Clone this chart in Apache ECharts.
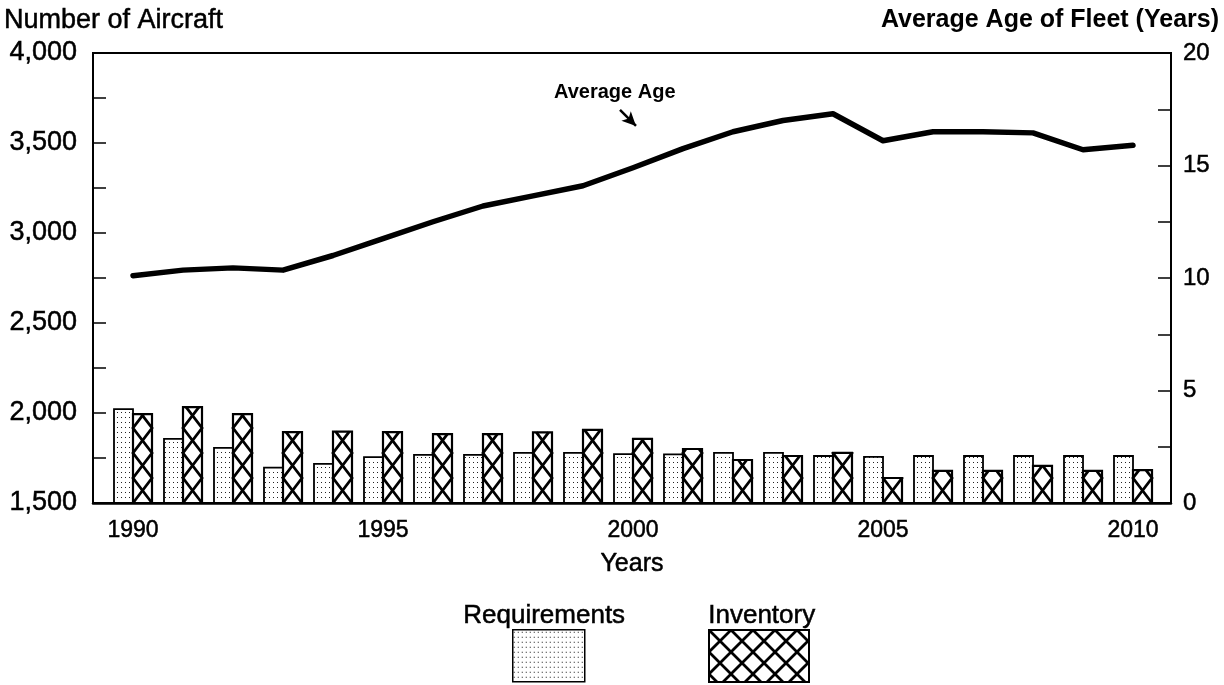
<!DOCTYPE html>
<html>
<head>
<meta charset="utf-8">
<script src="https://cdn.jsdelivr.net/npm/echarts@6/dist/echarts.min.js"></script>
<style>
  html, body { margin: 0; padding: 0; background: #fff; }
  #chart { width: 1224px; height: 685px; }
</style>
</head>
<body>
<div id="chart"></div>
<script>
const years = [1990, 1991, 1992, 1993, 1994, 1995, 1996, 1997, 1998, 1999, 2000,
               2001, 2002, 2003, 2004, 2005, 2006, 2007, 2008, 2009, 2010];
const requirements = [2022, 1856, 1806, 1697, 1717, 1755, 1767, 1767, 1778, 1778, 1772,
                      1770, 1778, 1778, 1761, 1756, 1761, 1761, 1761, 1761, 1761];
const inventory = [1994, 2033, 1994, 1894, 1897, 1894, 1883, 1883, 1892, 1906, 1856,
                   1800, 1739, 1761, 1778, 1639, 1678, 1678, 1706, 1678, 1683];
const averageAge = [10.1, 10.35, 10.45, 10.35, 11.0, 11.75, 12.5, 13.2, 13.65, 14.1, 14.9,
                    15.75, 16.5, 17.0, 17.3, 16.1, 16.5, 16.5, 16.45, 15.7, 15.9];
const xTickLabels = [1990, 1995, 2000, 2005, 2010];
const leftAxisName = 'Number of Aircraft';
const rightAxisName = 'Average Age of Fleet (Years)';
const xAxisName = 'Years';
const seriesNames = ['Requirements', 'Inventory'];
const lineLabel = 'Average Age';
// annotation arrow endpoints (data space: year, age)
const arrowFrom = [1999.74, 17.47];
const arrowTo = [2000.06, 16.76];

const FONT = "'Liberation Sans', Arial, Helvetica, sans-serif";
const BAR_W = 0.38; // bar width in years
const CROSS_H = 25; // crosshatch cell height (px)
const HEAVY = { textBorderColor: '#000', textBorderWidth: 0.5 };

function makeDots() {
  const c = document.createElement('canvas');
  c.width = 4; c.height = 5;
  const g = c.getContext('2d');
  g.fillStyle = '#fff'; g.fillRect(0, 0, 4, 5);
  g.fillStyle = '#222'; g.fillRect(1, 2, 1, 1);
  return c;
}
function makeCross(s) {
  const c = document.createElement('canvas');
  c.width = s; c.height = s;
  const g = c.getContext('2d');
  g.fillStyle = '#fff'; g.fillRect(0, 0, s, s);
  g.strokeStyle = '#000'; g.lineWidth = 2.8;
  g.beginPath();
  g.moveTo(-2, -2); g.lineTo(s + 2, s + 2);
  g.moveTo(s + 2, -2); g.lineTo(-2, s + 2);
  g.stroke();
  return c;
}
const dotPattern = { image: makeDots(), repeat: 'repeat' };
const crossPattern = { image: makeCross(22), repeat: 'repeat' };

const reqData = years.map((y, i) => [y, requirements[i]]);
const invData = years.map((y, i) => [y, inventory[i]]);
const ageData = years.map((y, i) => [y, averageAge[i]]);

function zig(x0, x1, yb, yt, H, startLeft) {
  const pts = [[startLeft ? x0 : x1, yb]];
  let y = yb, atLeft = startLeft;
  while (y > yt + 0.01) {
    const ny = y - H;
    if (ny <= yt) {
      const t = (y - yt) / H;
      const px = atLeft ? x0 + t * (x1 - x0) : x1 - t * (x1 - x0);
      pts.push([px, yt]);
      break;
    }
    pts.push([atLeft ? x1 : x0, ny]);
    y = ny; atLeft = !atLeft;
  }
  return pts;
}

function renderReq(params, api) {
  const yr = api.value(0), v = api.value(1);
  const base = api.coord([yr, 1500]);
  const top = api.coord([yr, v]);
  const w = api.size([BAR_W, 0])[0];
  return {
    type: 'rect',
    shape: { x: base[0] - w, y: top[1], width: w, height: base[1] - top[1] },
    style: { fill: dotPattern, stroke: '#000', lineWidth: 1.8 }
  };
}
function renderInv(params, api) {
  const yr = api.value(0), v = api.value(1);
  const base = api.coord([yr, 1500]);
  const top = api.coord([yr, v]);
  const w = api.size([BAR_W, 0])[0];
  const x0 = base[0], x1 = base[0] + w;
  return {
    type: 'group',
    children: [
      { type: 'rect', shape: { x: x0, y: top[1], width: w, height: base[1] - top[1] },
        style: { fill: '#fff', stroke: '#000', lineWidth: 2.2 } },
      { type: 'polyline', shape: { points: zig(x0, x1, base[1], top[1], CROSS_H, true) },
        style: { fill: null, stroke: '#000', lineWidth: 2.8 } },
      { type: 'polyline', shape: { points: zig(x0, x1, base[1], top[1], CROSS_H, false) },
        style: { fill: null, stroke: '#000', lineWidth: 2.8 } }
    ]
  };
}

const chart = echarts.init(document.getElementById('chart'), null, { renderer: 'canvas' });
chart.setOption({
  animation: false,
  backgroundColor: '#fff',
  textStyle: { fontFamily: FONT, color: '#000' },
  title: [
    { text: leftAxisName, left: 4, top: 7, padding: 0,
      textStyle: Object.assign({ fontFamily: FONT, fontSize: 27, fontWeight: 'normal', color: '#000' }, HEAVY) },
    { text: rightAxisName, right: 5, top: 8, padding: 0,
      textStyle: { fontFamily: FONT, fontSize: 25, fontWeight: 'bold', color: '#000' } }
  ],
  grid: { left: 93, right: 53, top: 53, bottom: 182, show: true, borderColor: '#000', borderWidth: 2, backgroundColor: 'transparent' },
  xAxis: {
    type: 'value', min: 1989.2, max: 2010.76,
    name: xAxisName, nameLocation: 'middle', nameGap: 49,
    nameTextStyle: Object.assign({ fontFamily: FONT, fontSize: 25, color: '#000' }, HEAVY),
    axisLine: { show: true, lineStyle: { color: '#000', width: 2.5 } },
    axisTick: { show: false },
    splitLine: { show: false },
    axisLabel: Object.assign({ customValues: xTickLabels, formatter: v => String(v), fontFamily: FONT, fontSize: 23, color: '#000', margin: 16 }, HEAVY)
  },
  yAxis: [
    {
      type: 'value', min: 1500, max: 4000, interval: 250, position: 'left',
      axisLine: { show: true, lineStyle: { color: '#000', width: 2 } },
      axisTick: { show: true, inside: true, length: 13, lineStyle: { color: '#000', width: 1.5 } },
      splitLine: { show: false },
      axisLabel: Object.assign({ formatter: v => (v % 500 === 0 ? v.toLocaleString('en-US') : ''), fontFamily: FONT, fontSize: 27, color: '#000', margin: 16 }, HEAVY)
    },
    {
      type: 'value', min: 0, max: 20, interval: 2.5, position: 'right',
      axisLine: { show: true, lineStyle: { color: '#000', width: 2 } },
      axisTick: { show: true, inside: true, length: 13, lineStyle: { color: '#000', width: 1.5 } },
      splitLine: { show: false },
      axisLabel: Object.assign({ formatter: v => (v % 5 === 0 ? String(v) : ''), fontFamily: FONT, fontSize: 24, color: '#000', margin: 12 }, HEAVY)
    }
  ],
  legend: [
    { data: [{ name: seriesNames[0], icon: 'rect', itemStyle: { color: dotPattern, borderColor: '#000', borderWidth: 1.5 } }],
      left: 512, top: 629, padding: 0, itemWidth: 72, itemHeight: 52, itemGap: 0, formatter: () => '', selectedMode: false },
    { data: [{ name: seriesNames[1], icon: 'rect', itemStyle: { color: crossPattern, borderColor: '#000', borderWidth: 2 } }],
      left: 708, top: 629, padding: 0, itemWidth: 100, itemHeight: 52, itemGap: 0, formatter: () => '', selectedMode: false }
  ],
  graphic: [
    { type: 'text', left: 463, top: 603, style: { text: seriesNames[0], font: "26px " + FONT, fill: '#000', stroke: '#000', lineWidth: 0.5 } },
    { type: 'text', left: 708, top: 603, style: { text: seriesNames[1], font: "26px " + FONT, fill: '#000', stroke: '#000', lineWidth: 0.5 } },
    { type: 'text', left: 554, top: 82, style: { text: lineLabel, font: "bold 20px " + FONT, fill: '#000' } }
  ],
  series: [
    { name: seriesNames[0], type: 'custom', data: reqData, renderItem: renderReq, xAxisIndex: 0, yAxisIndex: 0,
      itemStyle: { color: dotPattern, borderColor: '#000' }, z: 2 },
    { name: seriesNames[1], type: 'custom', data: invData, renderItem: renderInv, xAxisIndex: 0, yAxisIndex: 0,
      itemStyle: { color: crossPattern, borderColor: '#000' }, z: 2 },
    { name: lineLabel, type: 'line', data: ageData, xAxisIndex: 0, yAxisIndex: 1, showSymbol: false, symbol: 'none',
      lineStyle: { color: '#000', width: 5.5, cap: 'round', join: 'round' }, z: 5,
      markLine: { silent: true, symbol: ['none', 'arrow'], symbolSize: [10, 14], label: { show: false },
        lineStyle: { color: '#000', width: 2.5, type: 'solid' },
        data: [[{ coord: arrowFrom }, { coord: arrowTo }]] } }
  ]
});
</script>
</body>
</html>
